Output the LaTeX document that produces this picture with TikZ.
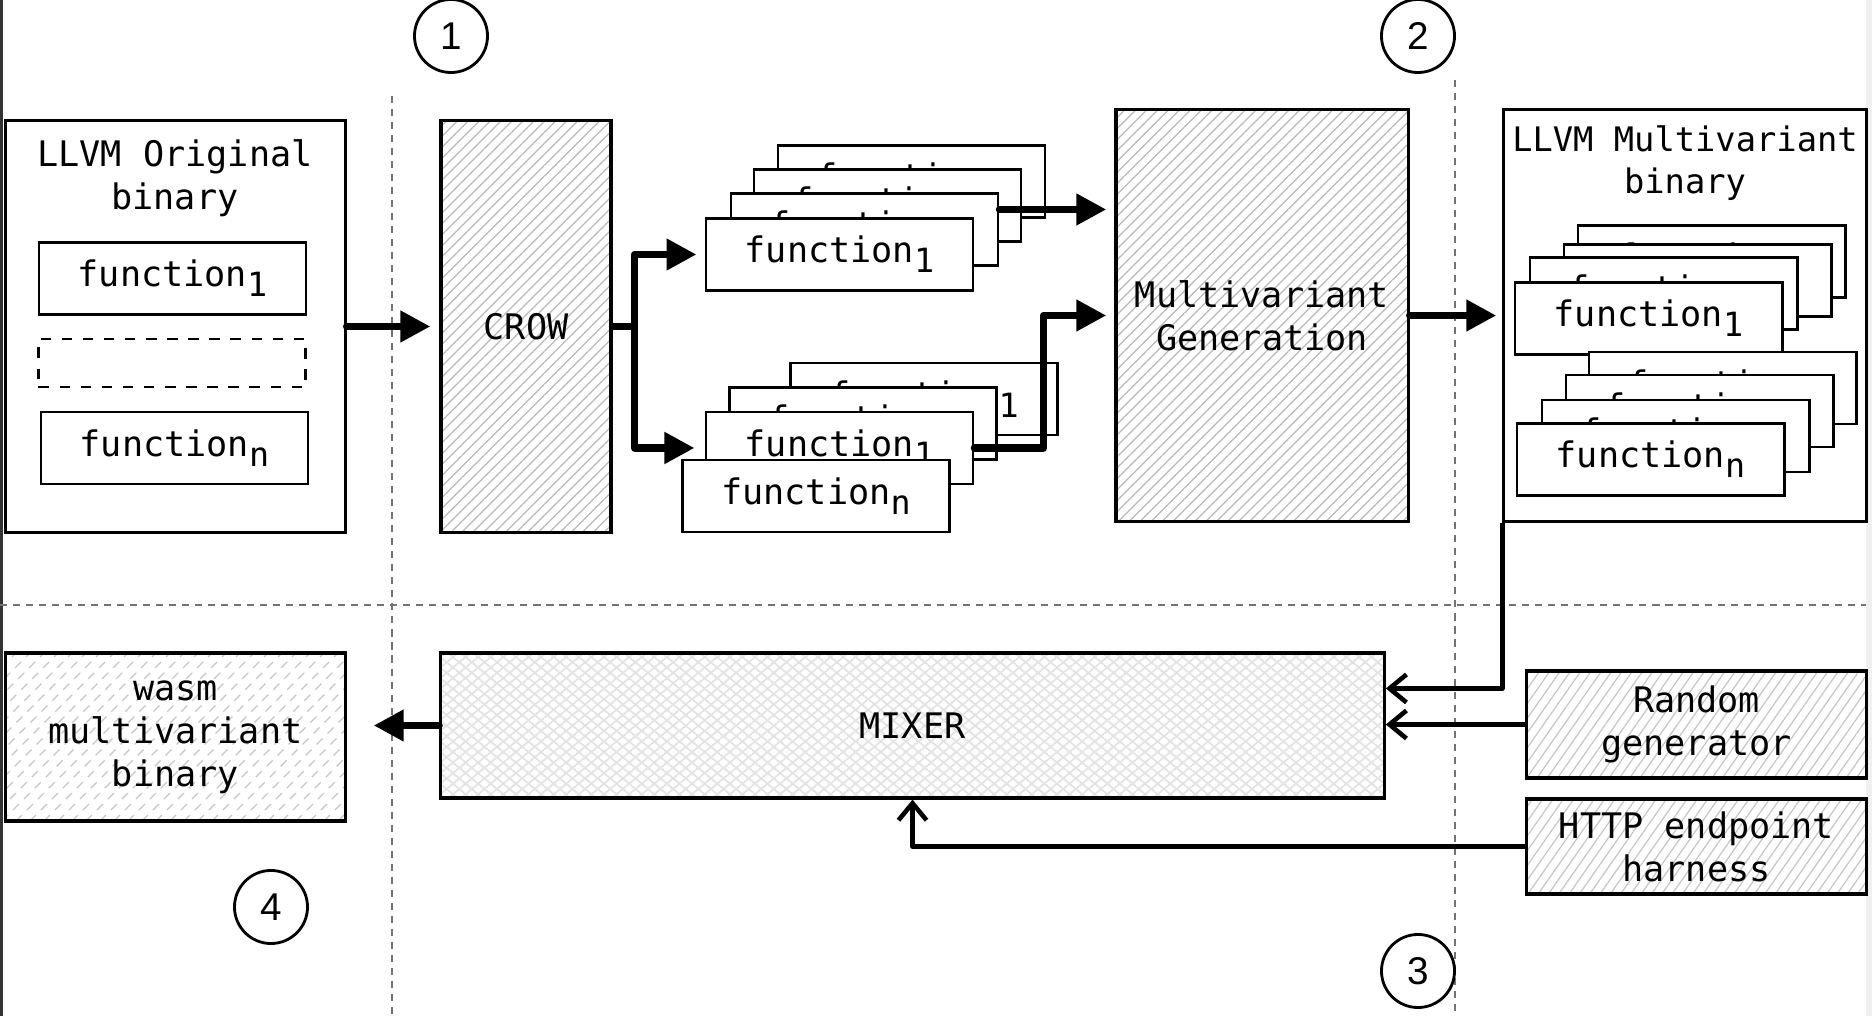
\documentclass[tikz,border=0pt]{standalone}
\usepackage{fontspec}
\setmonofont{DejaVu Sans Mono}
\setsansfont{Liberation Sans}
\usetikzlibrary{patterns.meta}
\usetikzlibrary{arrows.meta}

\newcommand{\fsub}[1]{function\raisebox{-2.8pt}{\fontsize{9.5}{9.5}\selectfont #1}}

\begin{document}
\begin{tikzpicture}[x=0.01cm,y=-0.01cm,
  txt/.style={font=\ttfamily\fontsize{10}{12.2}\selectfont,align=center},
  box/.style={draw,line width=0.9pt,inner sep=0pt,txt},
  fbox/.style={box,fill=white,line width=0.8pt,minimum width=2.67cm,minimum height=0.72cm},
  hatch/.style={box,preaction={pattern={Lines[angle=45,distance=2.2pt,line width=0.35pt]},pattern color=gray!55}},
  lighthatch/.style={box,preaction={pattern={Lines[angle=55,distance=2.4pt,line width=0.35pt]},pattern color=gray!45}},
  cross/.style={box,preaction={pattern={Lines[angle=40,distance=2.3pt,line width=0.5pt]},pattern color=gray!22},
    preaction={pattern={Lines[angle=-40,distance=2.3pt,line width=0.5pt]},pattern color=gray!22}},
  circ/.style={circle,draw,line width=0.8pt,minimum size=0.73cm,inner sep=0pt,font=\sffamily\fontsize{11}{11}\selectfont},
  sep/.style={black!55,line width=0.45pt,dash pattern=on 2pt off 1.7pt},
  flow/.style={line width=2.1pt,line join=round,line cap=round,-{Triangle[length=0.3cm,width=0.3cm]}},
  feed/.style={line width=1.3pt,line join=round,-{Straight Barb[length=0.17cm,width=0.28cm]}}]
\useasboundingbox (0,0) rectangle (1872,1016);
\fill[white] (0,0) rectangle (1872,1016);
\fill[black!80] (0,0) rectangle (3,1016);
\fill[black!6] (1866,0) rectangle (1872,1016);

% stage separators
\draw[sep] (392,96) -- (392,1016);
\draw[sep] (1455,80) -- (1455,1016);
\draw[sep] (0,605) -- (1866,605);

\node[circ] (n1) at (451,36) {1};
\node[circ] (n2) at (1418,36) {2};
\node[circ] (n3) at (1418,971) {3};
\node[circ] (n4) at (271,907) {4};

% original binary
\node[box,fill=white,minimum width=3.39cm,minimum height=4.11cm] (orig) at (175.5,326.5) {};
\node[txt] (origlbl) at (175,178) {LLVM Original\\binary};
\node[fbox] (of1) at (172.5,278.5) {\fsub{1}};
\node[fbox,dashed,minimum height=0.48cm] (odash) at (172,363) {};
\node[fbox] (ofn) at (174.5,448) {\fsub{n}};

\node[hatch,minimum width=1.7cm,minimum height=4.11cm] (crow) at (526,326.5) {CROW};

% variants of the functions
\node[fbox] (tf1) at (911.5,181.5) {\fsub{1}};
\node[fbox] (tf2) at (887.5,205.5) {\fsub{1}};
\node[fbox] (tf3) at (864.5,229.5) {\fsub{1}};
\node[fbox] (tf4) at (839.5,254.5) {\fsub{1}};
\node[fbox] (bf1) at (924,399) {\fsub{1}};
\node[fbox] (bf2) at (863,423.5) {\fsub{1}};
\node[fbox] (bf3) at (839.5,448) {\fsub{1}};
\node[fbox] (bf4) at (816,496) {\fsub{n}};

\node[hatch,minimum width=2.92cm,minimum height=4.11cm] (mg) at (1262,315.5) {Multivariant\\Generation};

% multivariant binary
\node[box,fill=white,minimum width=3.62cm,minimum height=4.11cm] (mm) at (1685,315.5) {};
\node[txt,font=\ttfamily\fontsize{9.6}{11.8}\selectfont] (mmlbl) at (1685,163) {LLVM Multivariant\\binary};
\node[fbox] (ma1) at (1711.5,261.5) {\fsub{1}};
\node[fbox] (ma2) at (1697.5,280.5) {\fsub{1}};
\node[fbox] (ma3) at (1663.5,293.5) {\fsub{1}};
\node[fbox] (ma4) at (1648.5,318.5) {\fsub{1}};
\node[fbox] (mb1) at (1722.5,388) {\fsub{n}};
\node[fbox] (mb2) at (1699.5,411) {\fsub{n}};
\node[fbox] (mb3) at (1675.5,436) {\fsub{n}};
\node[fbox] (mb4) at (1650.5,459.5) {\fsub{n}};

\node[cross,minimum width=9.43cm,minimum height=1.45cm] (mixer) at (912.5,725.5) {MIXER};
\node[lighthatch,minimum width=3.39cm,minimum height=1.07cm] (rg) at (1696.5,724.5) {Random\\generator};
\node[lighthatch,minimum width=3.39cm,minimum height=0.95cm] (http) at (1696.5,846.5) {HTTP endpoint\\harness};

\begin{scope}
\clip (6,653) rectangle (345,821);
\foreach \i in {-180,-166,...,350}
  \draw[gray!45,line width=0.4pt,dash pattern=on 2.4pt off 2pt] (\i,821) -- ++(170,-170);
\end{scope}
\node[box,minimum width=3.39cm,minimum height=1.68cm] (wasm) at (175.5,737) {wasm\\multivariant\\binary};

% connectors
\draw[flow,shorten >=0.09cm] (orig.east) -- (crow.west);
\draw[flow,shorten >=0.08cm] (crow.east) -- ++(22,0) |- (tf4.west);
\draw[flow,shorten >=0.1cm] (crow.east) -- ++(22,0) |- (bf3.west);
\draw[flow,shorten >=0.08cm] ([yshift=0.2cm]tf3.east) -- ([yshift=0.2cm]tf3.east -| mg.west);
\draw[flow,shorten >=0.08cm] (bf3.east) -- ++(69,0) |- (mg.west);
\draw[flow,shorten >=0.06cm] (mg.east) -- (mm.west);
\draw[feed] (mm.south west) |- ([yshift=0.37cm]mixer.east);
\draw[feed] (rg.west) -- (rg.west -| mixer.east);
\draw[feed] (http.west) -| (mixer.south);
\draw[flow,shorten >=0.27cm] (mixer.west) -- (mixer.west -| wasm.east);

\end{tikzpicture}
\end{document}
